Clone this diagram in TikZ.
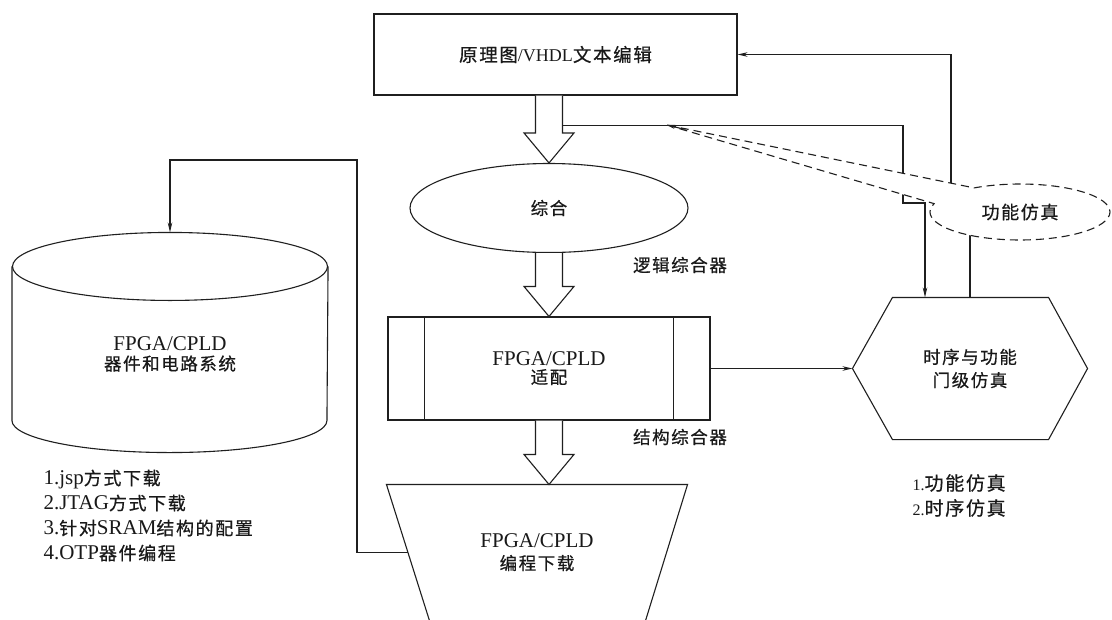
\documentclass[tikz,border=0pt]{standalone}
\usepackage{fontspec}
\setmainfont{Liberation Serif}
\newfontfamily\cjk[LetterSpace=9,FakeBold=0.6]{Noto Sans CJK SC}
\usetikzlibrary{arrows.meta,calc,shapes.geometric,shapes.callouts}
\newcommand\fs[1]{\fontsize{#1}{#1}\selectfont}
\newcommand\zhs[2]{{\fontsize{#1}{#1}\selectfont\cjk #2}}
\newcommand\blockarrow[2]{%
  \draw[blk] let \p1=(#1), \p2=(#2) in
    (\x1-13.5pt,\y1) -- (\x1-13.5pt,\y2+30pt) -- (\x1-25pt,\y2+30pt) -- (\x1,\y2)
    -- (\x1+25pt,\y2+30pt) -- (\x1+13.5pt,\y2+30pt) -- (\x1+13.5pt,\y1);}
\begin{document}
\begin{tikzpicture}[x=1pt,y=-1pt,
  line width=1.1pt, draw=black!88, text=black!90,
  box/.style={draw, inner sep=0pt, align=center},
  lbl/.style={inner sep=0pt, align=center},
  arr/.style={-{Stealth[length=10pt,width=4.5pt]}},
  smallarr/.style={-{Stealth[length=8pt,width=4pt]}},
  blk/.style={line width=1.1pt, fill=white, line join=miter},
  fsimstyle/.style={ellipse callout, draw, dashed, dash pattern=on 8pt off 5pt, fill=white,
    minimum width=180pt, minimum height=56pt, inner sep=0pt, callout pointer arc=42},
]
\useasboundingbox (0,0) rectangle (1112,619);
\fill[white] (0,0) rectangle (1112,619);

% nodes
\node[box, minimum width=363pt, minimum height=81pt] (edit) at (555.5,54.5)
  {\fs{18}\zhs{18.5}{原理图}/VHDL\zhs{18.5}{文本编辑}};
\node[draw, ellipse, minimum width=278pt, minimum height=89pt, inner sep=0pt] (syn) at (549,208)
  {\zhs{17.5}{综合}};
\node[box, minimum width=322pt, minimum height=103pt] (fit) at (549,368.5)
  {\fs{21}FPGA/CPLD\\[2pt]\zhs{17.5}{适配}};
\draw ($(fit.north west)+(37,0)$) -- ($(fit.south west)+(37,0)$);
\draw ($(fit.north east)+(-37,0)$) -- ($(fit.south east)+(-37,0)$);

\node[lbl, minimum width=234pt, minimum height=141pt] (sim) at (970,368.5)
  {\zhs{17.5}{时序与功能}\\[6pt]\zhs{17.5}{门级仿真}};
\draw (sim.west) -- ($(sim.north west)+(40,0)$) -- ($(sim.north east)+(-39,0)$) -- (sim.east)
  -- ($(sim.south east)+(-39,0)$) -- ($(sim.south west)+(40,0)$) -- cycle;

\node[lbl, minimum width=315pt, minimum height=219pt] (dev) at (170,342.5) {};
\draw ($(dev.north)+(0,34)$) ellipse [x radius=157.5pt, y radius=34pt];
\draw ($(dev.north west)+(0,34)$) -- ($(dev.south west)+(0,-32)$)
  arc [start angle=180, end angle=360, x radius=157.5pt, y radius=32pt]
  -- ($(dev.north east)+(0,34)$);
\node[lbl] (devtxt) at (170,354) {\fs{21}FPGA/CPLD\\[4pt]\zhs{17.5}{器件和电路系统}};

\node[lbl, minimum width=300pt, minimum height=135pt] (prog) at (537,552.5)
  {\fs{21}FPGA/CPLD\\[6pt]\zhs{17.5}{编程下载}};
\coordinate (progBL) at ($(prog.south west)+(43,0)$);
\coordinate (progBR) at ($(prog.south east)+(-42,0)$);
\draw (prog.north west) -- (prog.north east) -- (progBR) -- (progBL) -- cycle;
\coordinate (progL) at ($(prog.north west)!0.5!(progBL)$);

% labels
\node[lbl] (logic) at (680,265) {\zhs{17.5}{逻辑综合器}};
\node[lbl] (struct) at (680,437) {\zhs{17.5}{结构综合器}};
\node[lbl, anchor=west, align=left, font=\fontsize{21}{25}\selectfont] (dl) at (43,515.5)
  {1.jsp\zhs{18}{方式下载}\\2.JTAG\zhs{18}{方式下载}\\3.\zhs{18}{针对}SRAM\zhs{18}{结构的配置}\\4.OTP\zhs{18}{器件编程}};
\node[lbl, anchor=west, align=left, font=\fontsize{16}{25}\selectfont] (sl) at (912,495.5)
  {1.\zhs{19}{功能仿真}\\2.\zhs{19}{时序仿真}};

% block arrows
\blockarrow{syn.north |- edit.south}{syn.north}
\blockarrow{syn.south}{fit.north}
\blockarrow{fit.south}{fit.south |- prog.north}

% connectors
\coordinate (a1) at ($(syn.north |- edit.south)+(13.5,30)$);
\draw[arr] (a1) -| (903,203) -| ($(sim.north)+(-45,0)$);
\draw[arr] (sim.north) |- (951,212) |- (edit.east);
\draw[arr] (fit.east) -- (sim.west);
\draw[arr] (progL) -| (357,160) -| (dev.north);

% callout
\coordinate (ptip) at (667,125);
\node[fsimstyle, callout absolute pointer={(ptip)}] (fsim) at (1020,212) {\zhs{18}{功能仿真}};
\draw[smallarr] ($(ptip)!14pt!(fsim.center)$) -- (ptip);
\end{tikzpicture}
\end{document}
